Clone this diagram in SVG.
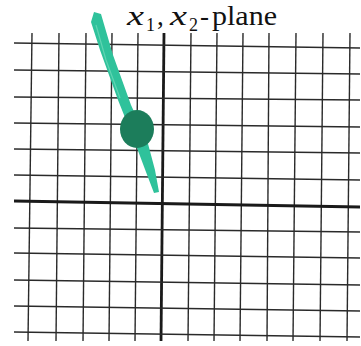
<svg xmlns="http://www.w3.org/2000/svg" width="361" height="346" viewBox="0 0 361 346">
<style>
.g{stroke:#2a2a2a;stroke-width:1.4;fill:none}
.ax{stroke:#1a1a1a;stroke-width:2.8;fill:none}
.t{font-family:"Liberation Serif",serif;font-size:27px;fill:#111}
.s{font-family:"Liberation Serif",serif;font-size:18px;fill:#111}
</style>
<rect width="361" height="346" fill="#fff"/>
<g id="grid">
<line class="g" x1="32" y1="33" x2="28" y2="341"/>
<line class="g" x1="59" y1="33" x2="56" y2="341"/>
<line class="g" x1="86" y1="33" x2="83" y2="341"/>
<line class="g" x1="112" y1="33" x2="109" y2="341"/>
<line class="g" x1="138" y1="33" x2="135" y2="341"/>
<line class="ax" x1="164" y1="33" x2="161" y2="341"/>
<line class="g" x1="191" y1="33" x2="188" y2="341"/>
<line class="g" x1="217" y1="33" x2="214" y2="341"/>
<line class="g" x1="243" y1="33" x2="240" y2="341"/>
<line class="g" x1="269" y1="33" x2="267" y2="341"/>
<line class="g" x1="296" y1="33" x2="293" y2="341"/>
<line class="g" x1="323" y1="33" x2="320" y2="341"/>
<line class="g" x1="350" y1="33" x2="347" y2="341"/>
<line class="g" x1="14" y1="43" x2="360" y2="48"/>
<line class="g" x1="14" y1="70" x2="360" y2="74"/>
<line class="g" x1="14" y1="97" x2="360" y2="100"/>
<line class="g" x1="14" y1="123" x2="360" y2="127"/>
<line class="g" x1="14" y1="149" x2="360" y2="153"/>
<line class="g" x1="14" y1="175" x2="360" y2="180"/>
<line class="ax" x1="14" y1="201" x2="360" y2="207"/>
<line class="g" x1="14" y1="228" x2="360" y2="232"/>
<line class="g" x1="14" y1="253" x2="360" y2="258"/>
<line class="g" x1="14" y1="280" x2="360" y2="285"/>
<line class="g" x1="14" y1="306" x2="360" y2="311"/>
<line class="g" x1="14" y1="332" x2="360" y2="337"/>
</g>
<g id="curve">
<path d="M94,12 L101,14 L113,55 L131,105 L147,140 L155,170 L159,192 L154,193 L146,172 L134,140 L118,100 L100,50 L91,22 Z" fill="#2fc29b"/>
<path d="M96,25 L106,60 L120,98" stroke="#5fd4b2" stroke-width="1.2" fill="none"/>
</g>
<g id="point">
<ellipse cx="137" cy="129" rx="17" ry="19" fill="#1c7d5b"/>
</g>
<g id="title">
<text class="t" x="127" y="25" font-style="italic" textLength="17" lengthAdjust="spacingAndGlyphs">x</text>
<text class="s" x="146" y="31">1</text>
<text class="t" x="157" y="25">,</text>
<text class="t" x="170" y="25" font-style="italic" textLength="17" lengthAdjust="spacingAndGlyphs">x</text>
<text class="s" x="189" y="31">2</text>
<text class="t" x="200" y="25">-</text>
<text class="t" x="212" y="25" textLength="65" lengthAdjust="spacingAndGlyphs">plane</text>
</g>
</svg>
